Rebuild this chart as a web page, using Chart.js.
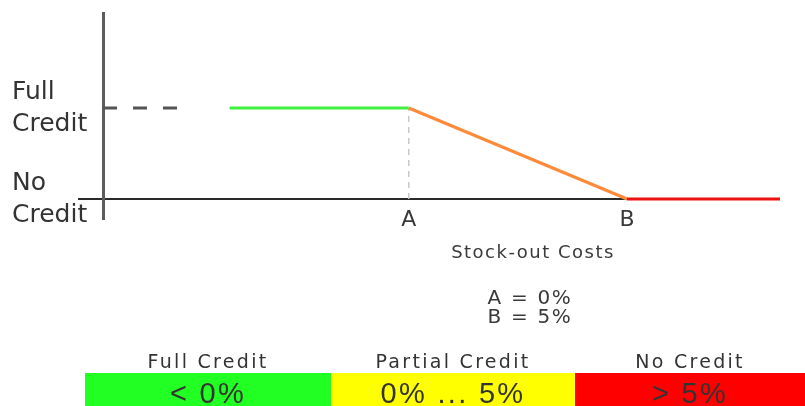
<!DOCTYPE html>
<html>
<head>
<meta charset="utf-8">
<script src="https://cdn.jsdelivr.net/npm/chart.js@4/dist/chart.umd.min.js"></script>
<style>
html,body{margin:0;padding:0;background:#fff;}
#wrap{position:relative;width:805px;height:406px;overflow:hidden;}
#c{position:absolute;left:0;top:0;}
.t{position:absolute;white-space:nowrap;color:#3a3a3a;transform:translate(-50%,-50%);}
#axisTitle{left:533px;top:251px;font:18px "DejaVu Sans";letter-spacing:1.5px;}
#notes{left:530px;top:307px;font:20px "DejaVu Sans";letter-spacing:1.7px;line-height:19px;text-align:center;}
#bandLabels{position:absolute;left:85px;top:350px;width:720px;height:23px;display:flex;}
#bandLabels div{text-align:center;font:19px "DejaVu Sans";letter-spacing:2.3px;line-height:23px;color:#333;}
#bands{position:absolute;left:85px;top:373px;width:720px;height:33px;display:flex;overflow:hidden;}
#bands div{text-align:center;font:29px "Liberation Sans";letter-spacing:2.3px;line-height:40px;color:#333;overflow:hidden;}
.w0{width:246px;} .w1{width:244px;} .w2{width:230px;}
</style>
</head>
<body>
<div id="wrap">
  <canvas id="c" width="805" height="406"></canvas>
  <div id="axisTitle" class="t"></div>
  <div id="notes" class="t"></div>
  <div id="bandLabels"></div>
  <div id="bands"></div>
</div>
<script>
// ---- data ----
const xTickValues = [-7, 0, 5];
const xTickLabels = ['', 'A', 'B'];
const yTickValues = [0, 1];
const yTickLabels = [['No', 'Credit'], ['Full', 'Credit']];

const fullCreditX = [-4.1, 0];
const fullCreditY = [1, 1];
const partialCreditX = [0, 5];
const partialCreditY = [1, 0];
const noCreditX = [5, 8.5];
const noCreditY = [0, 0];
const fullLevelRefX = [-7, -5.2];
const fullLevelRefY = [1, 1];
const pointAGuideX = [0, 0];
const pointAGuideY = [0, 1];

const xAxisTitle = 'Stock-out Costs';
const notes = ['A = 0%', 'B = 5%'];
const bandLabels = ['Full Credit', 'Partial Credit', 'No Credit'];
const bandRanges = ['< 0%', '0% ... 5%', '> 5%'];
const bandColors = ['#22ff22', '#ffff00', '#ff0000'];

// ---- helpers ----
const pts = (xs, ys) => xs.map((x, i) => ({x: x, y: ys[i]}));

document.getElementById('axisTitle').textContent = xAxisTitle;
const nt = document.getElementById('notes');
notes.forEach(s => { const d = document.createElement('div'); d.textContent = s; nt.appendChild(d); });
const bl = document.getElementById('bandLabels');
const bb = document.getElementById('bands');
bandLabels.forEach((lab, i) => {
  const a = document.createElement('div'); a.className = 'w' + i; a.textContent = lab; bl.appendChild(a);
  const b = document.createElement('div'); b.className = 'w' + i; b.textContent = bandRanges[i];
  b.style.background = bandColors[i]; bb.appendChild(b);
});

const axisZeroColor = '#2a2a2a';
const vAxisColor = '#5c5c5c';
const xMin = -7;

new Chart(document.getElementById('c'), {
  type: 'line',
  data: {
    datasets: [
      {data: pts(noCreditX, noCreditY), borderColor: '#ee1111', borderWidth: 3, clip: false},
      {data: pts(partialCreditX, partialCreditY), borderColor: '#ff8a3a', borderWidth: 3, clip: false},
      {data: pts(fullCreditX, fullCreditY), borderColor: '#3ff03f', borderWidth: 3},
      {data: pts(fullLevelRefX, fullLevelRefY), borderColor: '#555555', borderWidth: 3, borderDash: [14, 16]},
      {data: pts(pointAGuideX, pointAGuideY), borderColor: '#c8c8c8', borderWidth: 1.5, borderDash: [6, 5]}
    ]
  },
  options: {
    responsive: false,
    animation: false,
    devicePixelRatio: 1,
    layout: {padding: {left: 12, right: 25, top: 13, bottom: 0}},
    plugins: {legend: {display: false}, tooltip: {enabled: false}, title: {display: false}},
    elements: {point: {radius: 0}, line: {tension: 0, borderCapStyle: 'butt', fill: false}},
    scales: {
      x: {
        type: 'linear', min: xMin, max: 8.5,
        afterBuildTicks: s => { s.ticks = xTickValues.map(v => ({value: v})); },
        afterFit: s => { s.height = 207; s.paddingLeft = 0; s.paddingRight = 0; },
        grid: {
          display: true, drawOnChartArea: false, drawTicks: true, tickLength: 21,
          tickColor: c => (c.tick && c.tick.value === xMin) ? vAxisColor : 'rgba(0,0,0,0)',
          tickWidth: 3, lineWidth: 3, color: 'rgba(0,0,0,0)'
        },
        border: {display: false},
        ticks: {
          padding: -13, autoSkip: false, maxRotation: 0,
          font: {family: 'DejaVu Sans', size: 22}, color: '#3a3a3a',
          callback: v => { const i = xTickValues.indexOf(v); return i < 0 ? '' : xTickLabels[i]; }
        }
      },
      y: {
        type: 'linear', min: 0, max: 2.044,
        afterBuildTicks: s => { s.ticks = yTickValues.map(v => ({value: v})); },
        afterFit: s => { s.width = 91; s.paddingTop = 0; s.paddingBottom = 0; },
        grid: {
          color: c => (c.tick && c.tick.value === 0) ? axisZeroColor : 'rgba(0,0,0,0)',
          tickColor: c => (c.tick && c.tick.value === 0) ? axisZeroColor : 'rgba(0,0,0,0)',
          lineWidth: 2, tickLength: 25, drawTicks: true
        },
        border: {display: true, color: vAxisColor, width: 3},
        ticks: {
          crossAlign: 'far', padding: 0, autoSkip: false,
          font: {family: 'DejaVu Sans', size: 25, lineHeight: 1.28}, color: '#333333',
          callback: v => { const i = yTickValues.indexOf(v); return i < 0 ? '' : yTickLabels[i]; }
        }
      }
    }
  }
});
</script>
</body>
</html>
